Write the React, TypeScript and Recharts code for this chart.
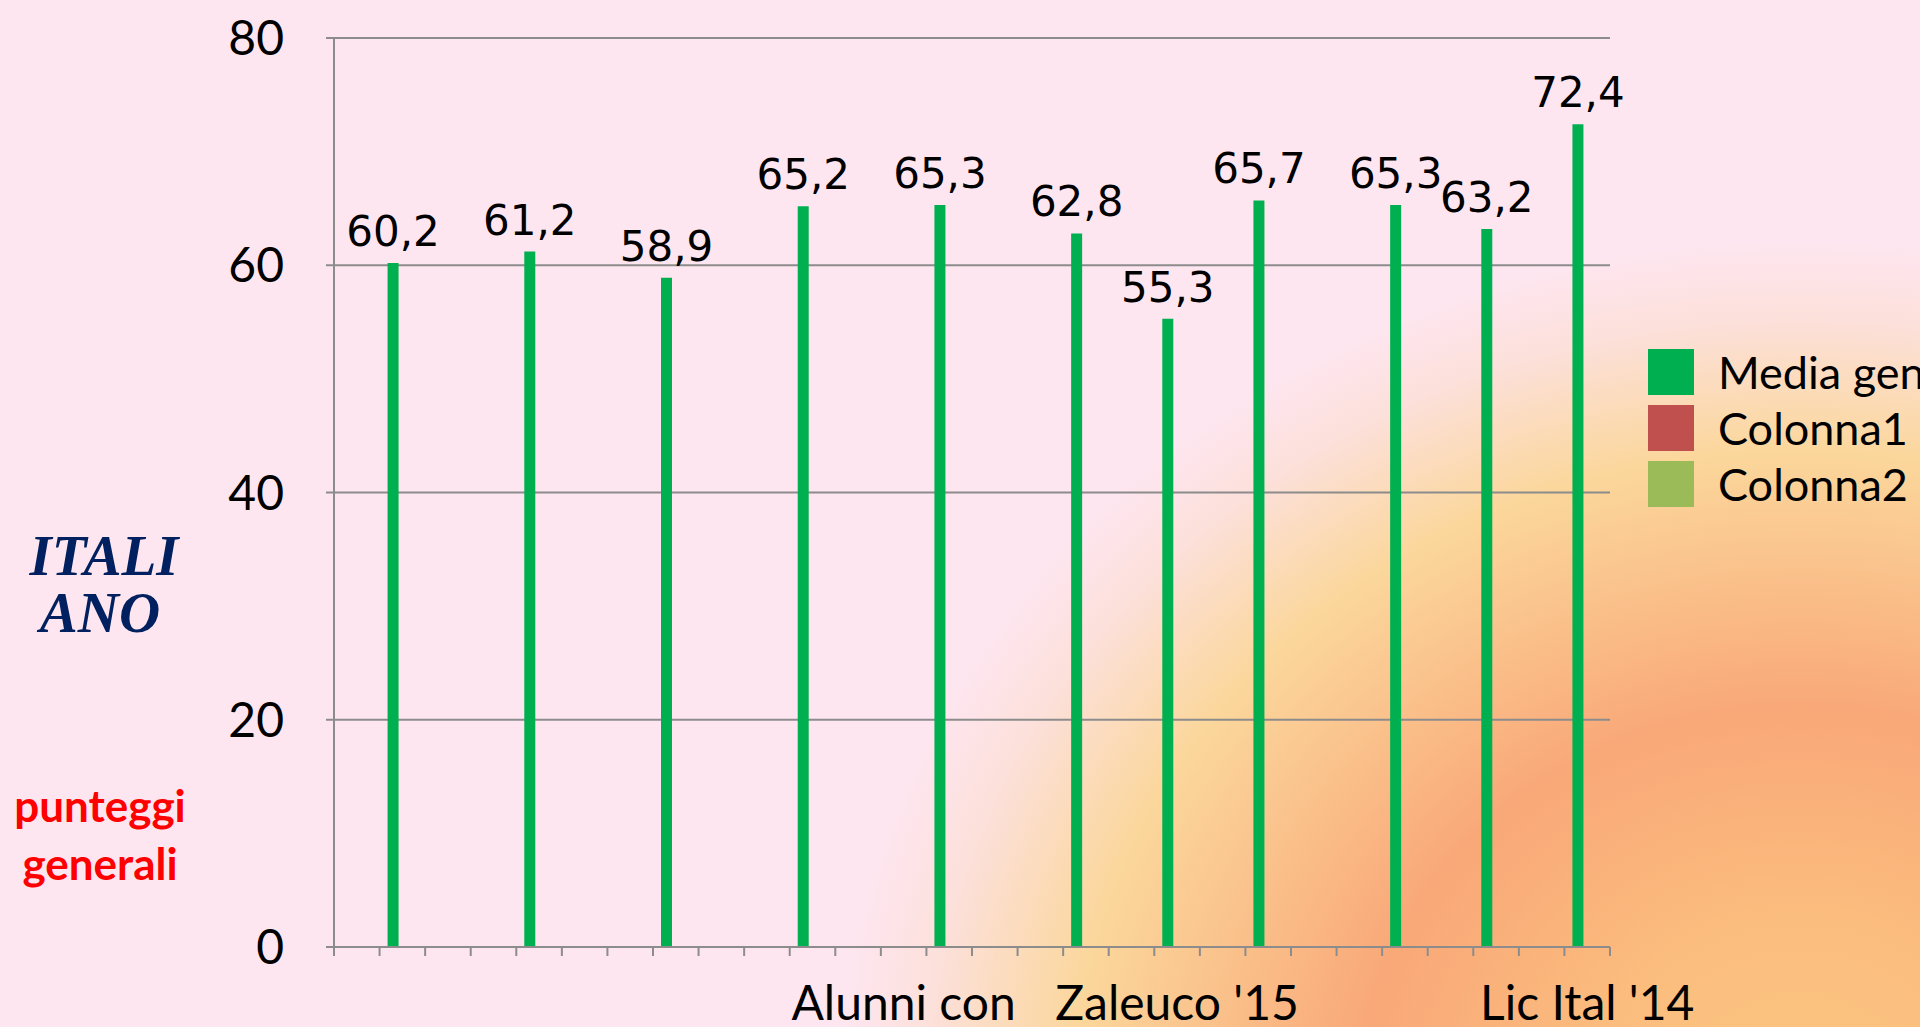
import React from 'react'
import { BarChart, Bar, XAxis, YAxis, CartesianGrid, Legend, LabelList } from 'recharts'

// Dati del grafico: 28 categorie, solo alcune con valore
const LABELS = [
  '', '', '', '', '', '', '', '', '', '', '', '', 'Alunni con', '', '', '', '', '', "Zaleuco '15",
  '', '', '', '', '', '', '', '', "Lic Ital '14",
]
const MEDIA = [
  null, 60.2, null, null, 61.2, null, null, 58.9, null, null, 65.2, null, null, 65.3,
  null, null, 62.8, null, 55.3, null, 65.7, null, null, 65.3, null, 63.2, null, 72.4,
]
const COLONNA1: (number | null)[] = LABELS.map(() => null)
const COLONNA2: (number | null)[] = LABELS.map(() => null)
const Y_TICKS = [0, 20, 40, 60, 80]
const SERIE = ['Media generale', 'Colonna1', 'Colonna2']

const data = LABELS.map((label, i) => ({
  id: String(i),
  label,
  media: MEDIA[i],
  c1: COLONNA1[i],
  c2: COLONNA2[i],
}))

// Geometria
const W = 1920
const H = 1027
const PLOT_LEFT = 334
const PLOT_RIGHT = 1610
const PLOT_TOP = 38
const X_AXIS_H = 80
const AXIS_Y = H - X_AXIS_H
const BAND = (PLOT_RIGHT - PLOT_LEFT) / LABELS.length
const GRAY = '#8c8c8c'

const fmt = (v: any) => (v == null ? '' : String(v).replace('.', ','))

// Tick categoria: tacca al bordo della banda + etichetta
function CatTick(props: any) {
  const { x, index } = props
  const last = index === LABELS.length - 1
  return (
    <g>
      <line x1={x - BAND / 2} x2={x - BAND / 2} y1={AXIS_Y} y2={AXIS_Y + 9} stroke={GRAY} strokeWidth={2} />
      {last && (
        <line x1={x + BAND / 2} x2={x + BAND / 2} y1={AXIS_Y} y2={AXIS_Y + 9} stroke={GRAY} strokeWidth={2} />
      )}
      <text x={x} y={1020} textAnchor="middle" fontFamily="Lato" fontSize={48} fill="#000">
        {LABELS[index]}
      </text>
    </g>
  )
}

function LegendaBox(props: any) {
  const items = [...(props.payload || [])].sort(
    (a: any, b: any) => SERIE.indexOf(a.value) - SERIE.indexOf(b.value),
  )
  return (
    <div>
      {items.map((e: any) => (
        <div key={e.value} style={{ display: 'flex', alignItems: 'center', height: 56, whiteSpace: 'nowrap' }}>
          <span style={{ width: 46, height: 46, background: e.color, display: 'inline-block' }} />
          <span style={{ marginLeft: 24, fontFamily: 'Lato', fontSize: 45, color: '#000', lineHeight: '56px' }}>
            {e.value}
          </span>
        </div>
      ))}
    </div>
  )
}

export default function App() {
  return (
    <div
      style={{
        position: 'absolute',
        left: 0,
        top: 0,
        width: W,
        height: H,
        overflow: 'hidden',
        backgroundColor: '#fee6f0',
        backgroundImage:
          'radial-gradient(ellipse 1120px 1000px at 1800px 1100px, #fbc680 0%, #fbbd7e 18%, #f9a878 39%, #fbd79c 65%, #fce0da 78%, #fee6f0 86%, #fee6f0 100%)',
      }}
    >
      <BarChart
        width={W}
        height={H}
        data={data}
        margin={{ top: PLOT_TOP, right: W - PLOT_RIGHT, bottom: 0, left: 0 }}
        barGap={-2}
      >
        <CartesianGrid vertical={false} stroke={GRAY} strokeWidth={2} />
        <XAxis
          dataKey="id"
          height={X_AXIS_H}
          interval={0}
          tickLine={false}
          axisLine={{ stroke: GRAY, strokeWidth: 2 }}
          tick={<CatTick />}
        />
        <YAxis
          width={PLOT_LEFT}
          domain={[0, 80]}
          ticks={Y_TICKS}
          interval={0}
          tickSize={8}
          tickMargin={42}
          tickLine={{ stroke: GRAY, strokeWidth: 2 }}
          axisLine={{ stroke: GRAY, strokeWidth: 2 }}
          tick={{ fill: '#000', fontSize: 48, fontFamily: 'Lato' }}
        />
        <Legend
          layout="vertical"
          align="center"
          verticalAlign="middle"
          content={<LegendaBox />}
          wrapperStyle={{ left: 1648, top: 344, width: 400 }}
        />
        <Bar dataKey="media" name="Media generale" fill="#00b050" barSize={11} isAnimationActive={false}>
          <LabelList
            dataKey="media"
            position="top"
            offset={17}
            formatter={fmt}
            fill="#000"
            fontSize={42}
            fontFamily="DejaVu Sans"
          />
        </Bar>
        <Bar dataKey="c1" name="Colonna1" fill="#c0504d" barSize={11} isAnimationActive={false} />
        <Bar dataKey="c2" name="Colonna2" fill="#9bbb59" barSize={11} isAnimationActive={false} />
      </BarChart>

      <svg width={W} height={H} style={{ position: 'absolute', left: 0, top: 0, pointerEvents: 'none' }}>
        <g fontFamily="Liberation Serif" fontStyle="italic" fontWeight="bold" fontSize={57} fill="#002060" textAnchor="middle">
          <text x={104} y={575}>ITALI</text>
          <text x={100} y={632}>ANO</text>
        </g>
        <g fontFamily="Lato" fontWeight="bold" fontSize={44} fill="#ff0000" textAnchor="middle">
          <text x={100} y={822}>punteggi</text>
          <text x={100} y={880}>generali</text>
        </g>
      </svg>
    </div>
  )
}
